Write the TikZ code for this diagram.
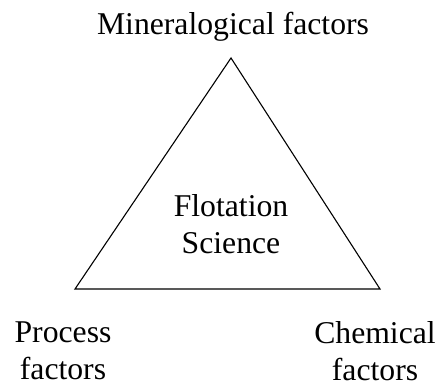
\documentclass[tikz,border=0pt]{standalone}
\usepackage{fontspec}
\setmainfont{Liberation Serif}

\tikzset{factor/.style={align=center, inner sep=0pt, font=\fontsize{31.7}{36.6}\selectfont}}

\begin{document}
\begin{tikzpicture}[x=1pt,y=1pt]
\useasboundingbox (0,0) rectangle (441,387);

% corners of the triangle
\coordinate (top) at (231,329);
\coordinate (left) at (75,98);
\coordinate (right) at (380,98);

\draw[line width=1.1pt, line join=miter] (top) -- (right) -- (left) -- cycle;

\node [factor] (science) at (231,163) {Flotation\\Science};

% labels at the corners
\node [factor, anchor=base] (mineral) at (233,352) {Mineralogical factors};
\node [factor] (process) at (63,36) {Process\\factors};
\node [factor] (chemical) at (375,36) {Chemical\\factors};

\end{tikzpicture}
\end{document}
